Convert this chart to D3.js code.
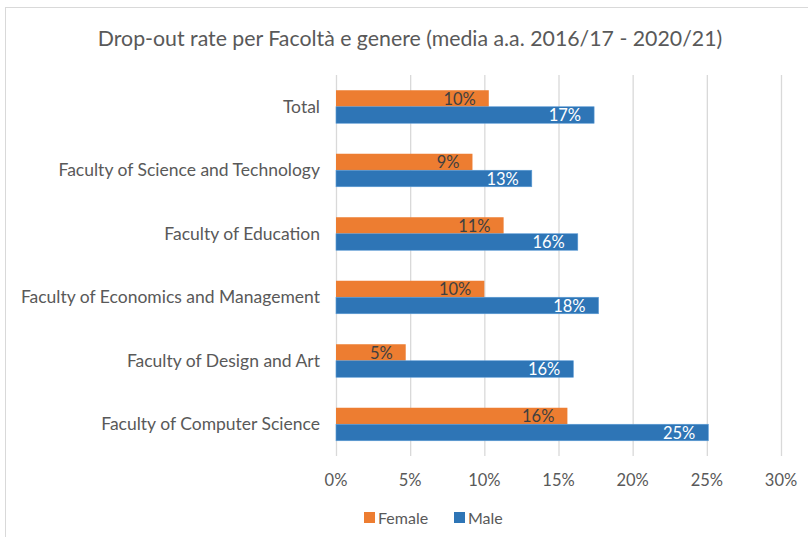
<!DOCTYPE html>
<html>
<head>
<meta charset="utf-8">
<script src="https://cdn.jsdelivr.net/npm/d3@7"></script>
<style>
  body { margin: 0; background: #fff; }
  svg { font-family: Lato, "Open Sans", sans-serif; }
</style>
</head>
<body>
<div id="chart"></div>
<script>
// data, listed top-to-bottom as drawn
const categories = ["Total", "Faculty of Science and Technology", "Faculty of Education",
  "Faculty of Economics and Management", "Faculty of Design and Art", "Faculty of Computer Science"];
const femaleValues = [10.3, 9.2, 11.3, 10.0, 4.7, 15.6];
const maleValues = [17.4, 13.2, 16.3, 17.7, 16.0, 25.1];
const seriesNames = ["Female", "Male"];
const xTicks = [0, 5, 10, 15, 20, 25, 30];

const width = 808, height = 537;
const margin = { top: 75, right: 27, bottom: 81, left: 336 };

const svg = d3.select("#chart").append("svg")
  .attr("width", width)
  .attr("height", height);

// chart border
svg.append("rect")
  .attr("x", 5.5).attr("y", 7.5)
  .attr("width", width).attr("height", height)
  .attr("fill", "none")
  .attr("stroke", "#d9d9d9");

svg.append("text")
  .attr("x", 410).attr("y", 46)
  .attr("text-anchor", "middle")
  .attr("font-size", 21.3)
  .attr("fill", "#595959")
  .text("Drop-out rate per Facoltà e genere (media a.a. 2016/17 - 2020/21)");

const x = d3.scaleLinear().domain([0, 30]).range([margin.left, width - margin.right]);
const y = d3.scaleBand().domain(categories).range([margin.top, height - margin.bottom]);
const z = d3.scaleOrdinal().domain(seriesNames).range(["#ED7D31", "#2E75B6"]);

const barH = 16.5;

// gridlines
svg.append("g")
  .selectAll("line")
  .data(xTicks)
  .enter().append("line")
  .attr("x1", d => x(d) + 0.5).attr("x2", d => x(d) + 0.5)
  .attr("y1", margin.top).attr("y2", height - margin.bottom)
  .attr("stroke", "#d9d9d9")
  .attr("stroke-width", 1.3);

// x tick labels
svg.append("g")
  .selectAll("text")
  .data(xTicks)
  .enter().append("text")
  .attr("x", d => x(d))
  .attr("y", 486)
  .attr("text-anchor", "middle")
  .attr("font-size", 16.5)
  .attr("fill", "#595959")
  .text(d => d + "%");

// category labels
svg.append("g")
  .selectAll("text")
  .data(categories)
  .enter().append("text")
  .attr("x", 320)
  .attr("y", d => y(d) + y.bandwidth() / 2 + 6)
  .attr("text-anchor", "end")
  .attr("font-size", 17.5)
  .attr("fill", "#595959")
  .text(d => d);

const rows = categories.map((c, i) => ({ cat: c, Female: femaleValues[i], Male: maleValues[i] }));

seriesNames.forEach((s, si) => {
  const g = svg.append("g");
  const yOff = d => y(d.cat) + y.bandwidth() / 2 - barH + si * barH;

  g.selectAll("rect")
    .data(rows)
    .enter().append("rect")
    .attr("x", x(0))
    .attr("y", yOff)
    .attr("width", d => x(d[s]) - x(0))
    .attr("height", barH)
    .attr("fill", z(s))
    .attr("stroke", si == 1 ? "#5b9bd5" : "none")
    .attr("stroke-width", 0.6);

  g.selectAll("text")
    .data(rows)
    .enter().append("text")
    .attr("x", d => x(d[s]) - 13)
    .attr("y", d => yOff(d) + barH / 2 + 6)
    .attr("text-anchor", "end")
    .attr("font-size", 16.5)
    .attr("fill", si == 0 ? "#404040" : "#ffffff")
    .text(d => Math.round(d[s]) + "%");
});

// legend
const legend = svg.append("g")
  .selectAll("g")
  .data(seriesNames)
  .enter().append("g")
  .attr("transform", (d, i) => "translate(" + (364 + i * 90) + ",512)");

legend.append("rect")
  .attr("width", 11).attr("height", 11)
  .attr("fill", d => z(d));

legend.append("text")
  .attr("x", 14).attr("y", 11.5)
  .attr("font-size", 16)
  .attr("fill", "#595959")
  .text(d => d);
</script>
</body>
</html>
